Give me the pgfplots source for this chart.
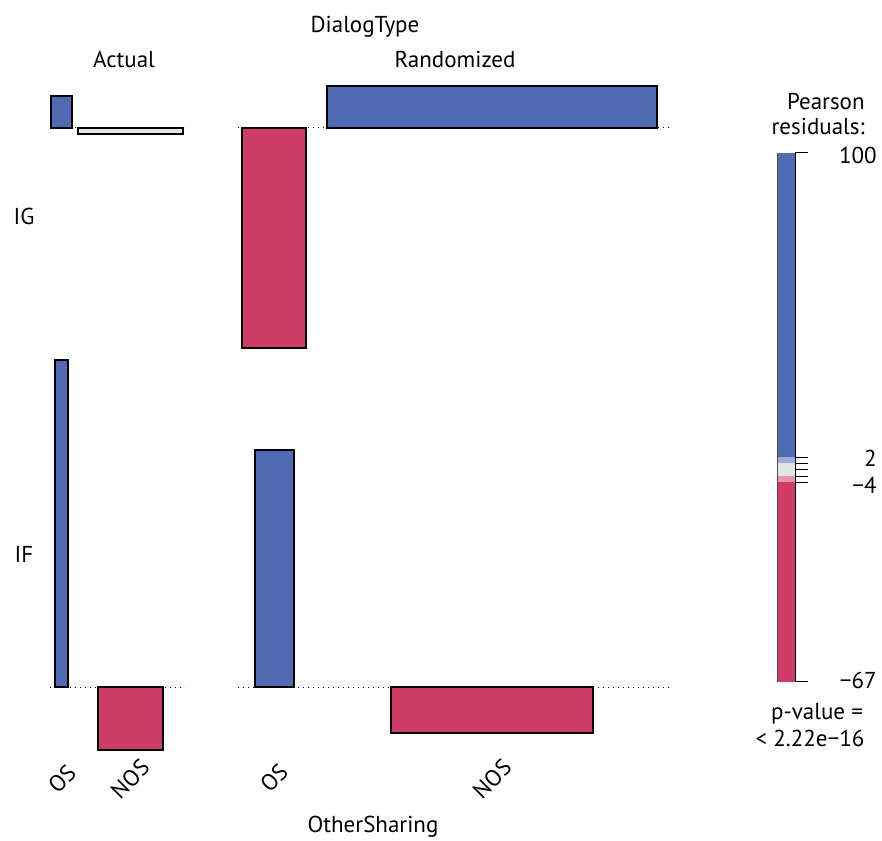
\documentclass[border=0pt]{standalone}
\usepackage{fontspec}
\setmainfont{PT Sans}
\usepackage{pgfplots}
\pgfplotsset{compat=1.18}
\definecolor{blueC}{RGB}{80,106,180}
\definecolor{redC}{RGB}{208,60,104}
\definecolor{lblueC}{RGB}{160,170,216}
\definecolor{greyC}{RGB}{226,227,227}
\definecolor{pinkC}{RGB}{232,150,164}
\begin{document}
\begin{tikzpicture}
\tikzset{lab/.style={font=\fontsize{11.5}{13}\selectfont, inner sep=0pt}}
\begin{axis}[name=main, at={(0,0)}, anchor=south west,
  scale only axis, width=441pt, height=420pt,
  xmin=0, xmax=882, ymin=0, ymax=840, hide axis, clip=false]
\addplot[draw=none] coordinates {(0,0) (882,840)};
% dotted baselines
\addplot[black, line width=0.5pt, dash pattern=on 0.5pt off 2pt] coordinates {(50,712) (185,712)};
\addplot[black, line width=0.5pt, dash pattern=on 0.5pt off 2pt] coordinates {(238,712) (672,712)};
\addplot[black, line width=0.5pt, dash pattern=on 0.5pt off 2pt] coordinates {(50,153) (185,153)};
\addplot[black, line width=0.5pt, dash pattern=on 0.5pt off 2pt] coordinates {(238,153) (672,153)};
% tiles: row IG (baseline 712)
\addplot[fill=blueC, draw=black, line width=0.6pt] coordinates {(51,712) (72,712) (72,744) (51,744)} -- cycle;
\addplot[fill=greyC, draw=black, line width=0.6pt] coordinates {(78,706) (183,706) (183,712) (78,712)} -- cycle;
\addplot[fill=redC, draw=black, line width=0.6pt] coordinates {(242,492) (306,492) (306,712) (242,712)} -- cycle;
\addplot[fill=blueC, draw=black, line width=0.6pt] coordinates {(327,712) (657,712) (657,754) (327,754)} -- cycle;
% tiles: row IF (baseline 153)
\addplot[fill=blueC, draw=black, line width=0.6pt] coordinates {(55,153) (68,153) (68,480) (55,480)} -- cycle;
\addplot[fill=redC, draw=black, line width=0.6pt] coordinates {(98,90) (163,90) (163,153) (98,153)} -- cycle;
\addplot[fill=blueC, draw=black, line width=0.6pt] coordinates {(255,153) (294,153) (294,390) (255,390)} -- cycle;
\addplot[fill=redC, draw=black, line width=0.6pt] coordinates {(391,107) (593,107) (593,153) (391,153)} -- cycle;
% labels
\node[lab, anchor=base] at (axis cs:365,807) {DialogType};
\node[lab, anchor=base] at (axis cs:124,772) {Actual};
\node[lab, anchor=base] at (axis cs:455,772) {Randomized};
\node[lab, anchor=base] at (axis cs:24,615) {IG};
\node[lab, anchor=base] at (axis cs:24,277) {IF};
\node[lab, rotate=45] at (axis cs:62,61) {OS};
\node[lab, rotate=45] at (axis cs:130,61) {NOS};
\node[lab, rotate=45] at (axis cs:274,62) {OS};
\node[lab, rotate=45] at (axis cs:492,61) {NOS};
\node[lab, anchor=base] at (axis cs:373,8) {OtherSharing};
% legend texts
\node[lab, anchor=base east] at (axis cs:865,730) {Pearson};
\node[lab, anchor=base east] at (axis cs:865,705) {residuals:};
\node[lab, anchor=base east] at (axis cs:877,676) {100};
\node[lab, anchor=base east] at (axis cs:877,373) {2};
\node[lab, anchor=base east] at (axis cs:877,346) {−4};
\node[lab, anchor=base east] at (axis cs:877,151) {−67};
\node[lab, anchor=base] at (axis cs:817,120) {p-value =};
\node[lab, anchor=base] at (axis cs:810,94) {< 2.22e−16};
\end{axis}
\begin{axis}[at={(388.5pt,79pt)}, anchor=south west,
  scale only axis, width=9pt, height=264.5pt,
  xmin=0, xmax=1, ymin=-67, ymax=100, clip=false,
  axis x line=none, axis y line*=right,
  axis line style={line width=0.8pt},
  ytick={-67,-4,-2,0,2,4,100}, yticklabels={,,,,,,},
  tick align=outside, major tick length=6.5pt,
  tick style={black, line width=0.5pt}]
\addplot[fill=blueC, draw=none] coordinates {(0,4) (1,4) (1,100) (0,100)} -- cycle;
\addplot[fill=lblueC, draw=none] coordinates {(0,2) (1,2) (1,4) (0,4)} -- cycle;
\addplot[fill=greyC, draw=none] coordinates {(0,-2) (1,-2) (1,2) (0,2)} -- cycle;
\addplot[fill=pinkC, draw=none] coordinates {(0,-4) (1,-4) (1,-2) (0,-2)} -- cycle;
\addplot[fill=redC, draw=none] coordinates {(0,-67) (1,-67) (1,-4) (0,-4)} -- cycle;
\addplot[black!70, line width=0.4pt] coordinates {(0,-67) (0,100)};
\end{axis}
\end{tikzpicture}
\end{document}
